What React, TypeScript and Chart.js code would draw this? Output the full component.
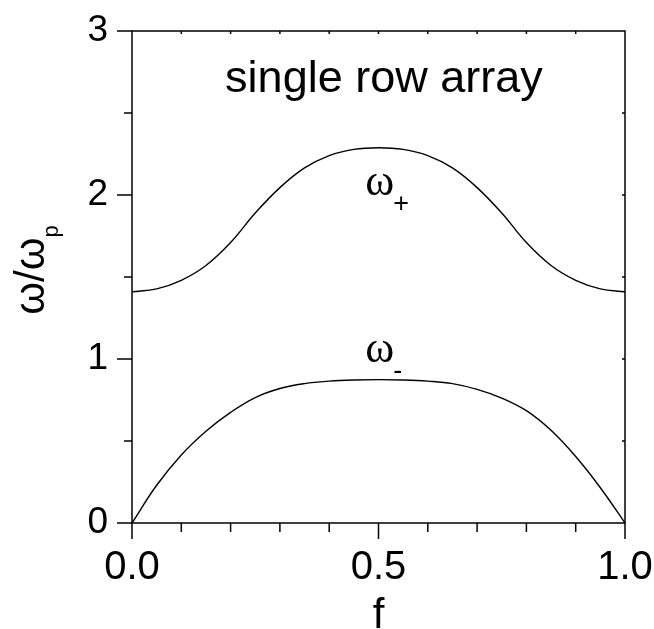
import React, { useEffect, useRef } from "react";
import { Chart, registerables } from "chart.js";

Chart.register(...registerables);

// ---- data ----
const fValues = [0, 0.05, 0.1, 0.15, 0.2, 0.25, 0.3, 0.35, 0.4, 0.45, 0.5, 0.55, 0.6, 0.65, 0.7, 0.75, 0.8, 0.85, 0.9, 0.95, 1.0];
const omegaPlus = [1.41, 1.428, 1.48, 1.57, 1.71, 1.89, 2.045, 2.165, 2.24, 2.278, 2.288, 2.278, 2.24, 2.165, 2.045, 1.89, 1.71, 1.57, 1.48, 1.428, 1.41];
const omegaMinus = [0, 0.23, 0.415, 0.56, 0.675, 0.765, 0.82, 0.85, 0.865, 0.872, 0.874, 0.872, 0.865, 0.85, 0.815, 0.762, 0.685, 0.565, 0.405, 0.215, 0];

const xTickLabels = [0, 0.5, 1.0];
const xMinorTicks = [0.1, 0.2, 0.3, 0.4, 0.6, 0.7, 0.8, 0.9];
const xTopTicks = [0.1, 0.2, 0.3, 0.4, 0.5, 0.6, 0.7, 0.8, 0.9];
const yTickLabels = [0, 1, 2, 3];
const yMinorTicks = [0.5, 1.5, 2.5];
const yRightTicks = [0.5, 1, 1.5, 2, 2.5];

const xTitle = "f";
const yTitleMain = "ω/ω";
const yTitleSub = "p";
const boxLabel = "single row array";
const boxLabelAt = [0.511, 2.628];
const branchLabels = ["ω", "ω"];
const branchSubs = ["+", "-"];
const branchAt = [[0.473, 2.0], [0.473, 0.982]];

const SANS = '"Liberation Sans", Arial, sans-serif';
const SERIF = '"Liberation Serif", "Times New Roman", serif';

const framePlugin = {
  id: "frame",
  afterDraw(chart: any) {
    const { ctx, chartArea, scales } = chart;
    const { left, right, top, bottom } = chartArea;
    const xs = scales.x;
    const ys = scales.y;
    ctx.save();
    ctx.strokeStyle = "#000";
    ctx.lineWidth = 1.5;
    ctx.strokeRect(left, top, right - left, bottom - top);
    const line = (x1: number, y1: number, x2: number, y2: number) => {
      ctx.beginPath();
      ctx.moveTo(x1, y1);
      ctx.lineTo(x2, y2);
      ctx.stroke();
    };
    xTickLabels.forEach((v) => {
      const p = xs.getPixelForValue(v);
      line(p, bottom, p, bottom + 16);
    });
    xMinorTicks.forEach((v) => {
      const p = xs.getPixelForValue(v);
      line(p, bottom, p, bottom + 9);
    });
    xTopTicks.forEach((v) => {
      const p = xs.getPixelForValue(v);
      line(p, top, p, top + 3);
    });
    yTickLabels.forEach((v) => {
      const p = ys.getPixelForValue(v);
      line(left - 15, p, left, p);
    });
    yMinorTicks.forEach((v) => {
      const p = ys.getPixelForValue(v);
      line(left - 8, p, left, p);
    });
    yRightTicks.forEach((v) => {
      const p = ys.getPixelForValue(v);
      line(right - 3, p, right, p);
    });

    ctx.fillStyle = "#000";
    ctx.textBaseline = "alphabetic";

    // x title
    ctx.font = `42px ${SANS}`;
    ctx.textAlign = "center";
    ctx.fillText(xTitle, (left + right) / 2, bottom + 105);

    // y title (rotated)
    ctx.save();
    ctx.translate(44, (top + bottom) / 2);
    ctx.rotate(-Math.PI / 2);
    ctx.font = `42px ${SANS}`;
    const mw = ctx.measureText(yTitleMain).width;
    ctx.font = `22px ${SANS}`;
    const sw = ctx.measureText(yTitleSub).width;
    const start = -(mw + sw) / 2 + 7;
    ctx.textAlign = "left";
    ctx.font = `42px ${SANS}`;
    ctx.fillText(yTitleMain, start, 0);
    ctx.font = `22px ${SANS}`;
    ctx.fillText(yTitleSub, start + mw, 14);
    ctx.restore();

    // box label
    ctx.font = `45px ${SANS}`;
    ctx.textAlign = "center";
    ctx.fillText(boxLabel, xs.getPixelForValue(boxLabelAt[0]), ys.getPixelForValue(boxLabelAt[1]));

    // branch labels
    branchLabels.forEach((t, i) => {
      const px = xs.getPixelForValue(branchAt[i][0]);
      const py = ys.getPixelForValue(branchAt[i][1]);
      ctx.textAlign = "left";
      ctx.font = `44px ${SERIF}`;
      ctx.fillText(t, px, py);
      const w = ctx.measureText(t).width;
      ctx.font = `27px ${SANS}`;
      ctx.fillText(branchSubs[i], px + w - 1, py + 17);
    });
    ctx.restore();
  },
};

const zeroPad = (s: any) => {
  s.paddingTop = 0;
  s.paddingBottom = 0;
  s.paddingLeft = 0;
  s.paddingRight = 0;
};

export default function App() {
  const ref = useRef<HTMLCanvasElement | null>(null);
  useEffect(() => {
    if (!ref.current) return;
    const mk = (vals: number[]) => fValues.map((f, i) => ({ x: f, y: vals[i] }));
    const chart = new Chart(ref.current, {
      type: "line",
      data: {
        datasets: [
          { label: "ω+", data: mk(omegaPlus), borderColor: "#000", borderWidth: 1.4, pointRadius: 0, tension: 0.4, fill: false },
          { label: "ω-", data: mk(omegaMinus), borderColor: "#000", borderWidth: 1.4, pointRadius: 0, tension: 0.4, fill: false },
        ],
      },
      options: {
        responsive: false,
        animation: false,
        layout: { padding: { top: 31, right: 29, left: 0, bottom: 0 } },
        plugins: { legend: { display: false }, tooltip: { enabled: false } },
        scales: {
          x: {
            type: "linear",
            min: 0,
            max: 1,
            grid: { display: false, drawTicks: false },
            border: { display: false },
            ticks: {
              stepSize: 0.5,
              padding: 21,
              color: "#000",
              font: { family: SANS, size: 40 },
              maxRotation: 0,
              callback: (v: any) => Number(v).toFixed(1),
            },
            afterFit: (s: any) => { s.height = 106; zeroPad(s); },
          },
          y: {
            type: "linear",
            min: 0,
            max: 3,
            grid: { display: false, drawTicks: false },
            border: { display: false },
            ticks: {
              stepSize: 1,
              padding: 24,
              color: "#000",
              font: { family: SANS, size: 37 },
              callback: (v: any) => String(v),
            },
            afterFit: (s: any) => { s.width = 132; zeroPad(s); },
          },
        },
      },
      plugins: [framePlugin],
    } as any);
    return () => chart.destroy();
  }, []);
  return (
    <div style={{ position: "absolute", left: 0, top: 0, width: 654, height: 629, background: "#fff" }}>
      <canvas ref={ref} width={654} height={629} />
    </div>
  );
}
